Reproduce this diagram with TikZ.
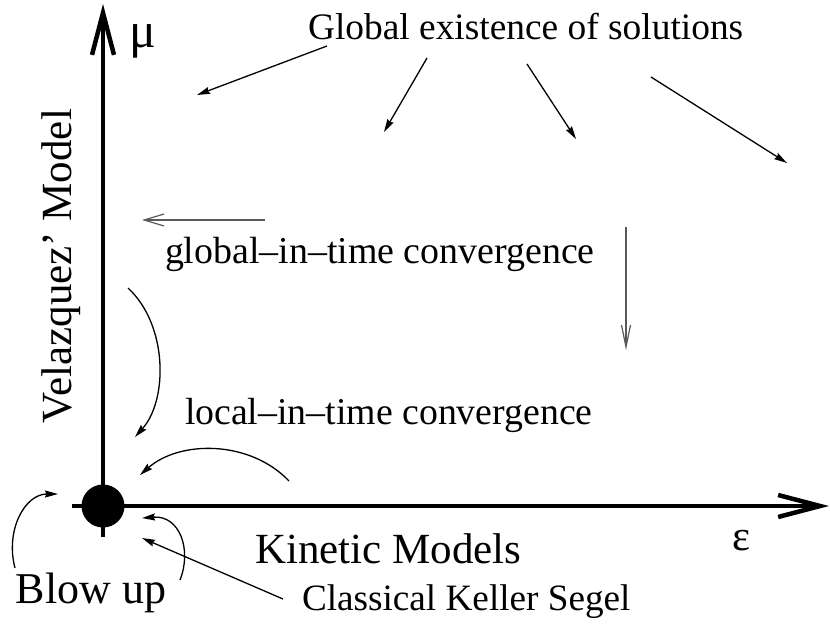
\documentclass[tikz,border=0pt]{standalone}
\usepackage{fontspec}
\setmainfont{Liberation Serif}
\usetikzlibrary{arrows.meta}
\tikzset{
  lbl/.style={inner sep=0pt, outer sep=0pt, anchor=base west},
  axis/.style={line width=4.5pt, -{Straight Barb[length=42pt,width=22pt,line width=4.5pt]}},
  thin/.style={line width=1.3pt, -{Stealth[length=13pt,width=7pt,inset=1.5pt]}},
  open/.style={line width=1.2pt, draw=black!65, -{Straight Barb[length=20pt,width=12pt,line width=1.2pt]}},
}
\begin{document}
\begin{tikzpicture}[x=1pt,y=-1pt]
\useasboundingbox (0,0) rectangle (830,625);
% axes
\coordinate (O) at (103,506);
\coordinate (vbot) at (103,537);
\coordinate (vtop) at (103,4);
\coordinate (hleft) at (72,506);
\coordinate (hright) at (829,506);
\draw[line width=4.5pt] (vbot) -- (O);
\draw[axis] (O) -- (vtop);
\draw[line width=4.5pt] (hleft) -- (O);
\draw[axis] (O) -- (hright);
\fill (O) circle (21.5pt);
% labels
\node[lbl] (mu) at (129,47) {\fontsize{50}{50}\selectfont μ};
\node[lbl] (eps) at (732,550) {\fontsize{43}{43}\selectfont ε};
\node[lbl, rotate=90] (vel) at (71,423) {\fontsize{43}{43}\selectfont Velazquez’ Model};
\node[lbl] (glob) at (308,39) {\fontsize{37.4}{37.4}\selectfont Global existence of solutions};
\node[lbl] (gconv) at (165,263) {\fontsize{37.9}{37.9}\selectfont global–in–time convergence};
\node[lbl] (lconv) at (185,424) {\fontsize{37.8}{37.8}\selectfont local–in–time convergence};
\node[lbl] (kin) at (255,563) {\fontsize{43}{43}\selectfont Kinetic Models};
\node[lbl] (cks) at (302,610) {\fontsize{37.2}{37.2}\selectfont Classical Keller Segel};
\node[lbl] (blow) at (16,603) {\fontsize{44}{44}\selectfont Blow up};
% arrows from Global existence
\coordinate (g1s) at (327,46); \coordinate (g1e) at (197,95);
\coordinate (g2s) at (427,58); \coordinate (g2e) at (384,132);
\coordinate (g3s) at (527,64); \coordinate (g3e) at (576,139);
\coordinate (g4s) at (651,77); \coordinate (g4e) at (787,163);
\draw[thin] (g1s) -- (g1e);
\draw[thin] (g2s) -- (g2e);
\draw[thin] (g3s) -- (g3e);
\draw[thin] (g4s) -- (g4e);
% global-in-time arrows
\coordinate (hs) at (265,220); \coordinate (he) at (142,220);
\draw[open] (hs) -- (he);
\coordinate (vs) at (626,227); \coordinate (ve) at (626,350);
\draw[open, -{Straight Barb[length=22pt,width=9pt,line width=1.2pt]}] (vs) -- (ve);
% local-in-time curved arrows
\coordinate (c1s) at (128,288); \coordinate (c1e) at (135,437);
\draw[thin] (c1s) .. controls (168,325) and (168,400) .. (c1e);
\coordinate (c2s) at (289,481); \coordinate (c2e) at (140,475);
\draw[thin] (c2s) .. controls (250,440) and (180,440) .. (c2e);
% blow up
\coordinate (b1s) at (15,568); \coordinate (b1e) at (58,494);
\draw[thin] (b1s) .. controls (5,530) and (25,494) .. (b1e);
\coordinate (b2s) at (180,580); \coordinate (b2e) at (142,518);
\draw[thin] (b2s) .. controls (192,550) and (180,515) .. (b2e);
% classical Keller Segel
\coordinate (ks) at (283,599); \coordinate (ke) at (142,538);
\draw[thin] (ks) -- (ke);
\end{tikzpicture}
\end{document}
